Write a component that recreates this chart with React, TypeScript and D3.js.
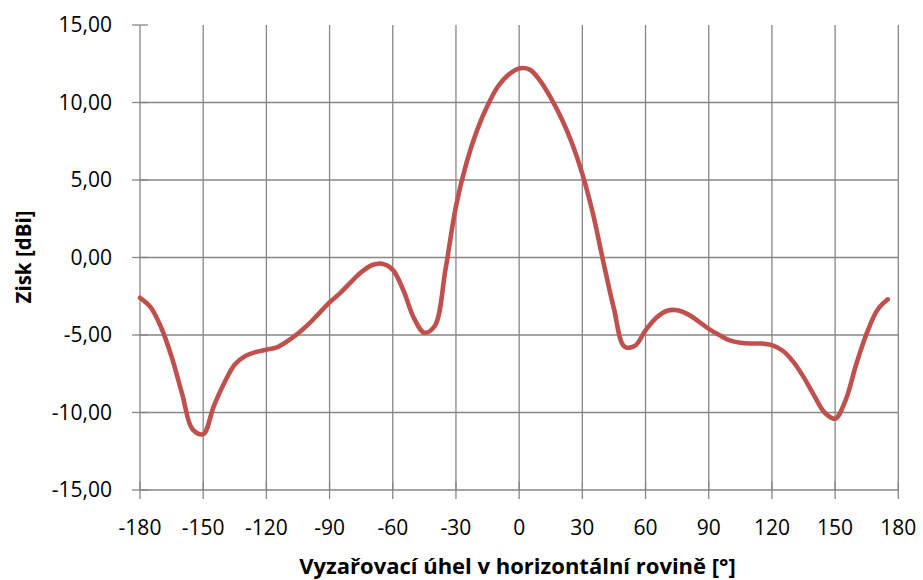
import React from "react";
import * as d3 from "d3";

const angles: number[] = [
  -180, -175, -170, -165, -160, -155, -150, -145, -140, -135, -130, -125,
  -120, -115, -110, -105, -100, -95, -90, -85, -80, -75, -70, -65,
  -60, -55, -50, -45, -40, -35, -30, -25, -20, -15, -10, -5,
  0, 5, 10, 15, 20, 25, 30, 35, 40, 45, 50, 55,
  60, 65, 70, 75, 80, 85, 90, 95, 100, 105, 110, 115,
  120, 125, 130, 135, 140, 145, 150, 155, 160, 165, 170, 175,
];

const gains: number[] = [
  -2.6, -3.2, -4.5, -6.4, -8.8, -11.1, -11.4, -9.6, -8.1, -6.9, -6.35, -6.1,
  -5.95, -5.8, -5.4, -4.9, -4.3, -3.6, -2.9, -2.3, -1.6, -0.95, -0.5, -0.4,
  -0.8, -2.1, -3.9, -4.85, -4.4, -0.8, 3.3, 6.1, 8.2, 9.8, 11.05, 11.8,
  12.2, 12.12, 11.4, 10.3, 9.0, 7.4, 5.4, 2.85, -0.3, -3.3, -5.75, -5.7,
  -4.7, -3.9, -3.45, -3.4, -3.65, -4.1, -4.6, -5.0, -5.35, -5.5, -5.55, -5.55,
  -5.65, -6.0, -6.7, -7.7, -8.9, -10.0, -10.4, -9.2, -6.9, -4.9, -3.4, -2.7,
];

const xTicks: number[] = [-180, -150, -120, -90, -60, -30, 0, 30, 60, 90, 120, 150, 180];
const yTicks: number[] = [-15, -10, -5, 0, 5, 10, 15];

const xTitle = "Vyzařovací úhel v horizontální rovině [°]";
const yTitle = "Zisk [dBi]";

const W = 923;
const H = 580;
const left = 140;
const right = 898.3;
const top = 25;
const bottom = 490;

const gridColor = "#868686";
const lineColor = "#C0504D";
const font = "'Open Sans', 'Liberation Sans', sans-serif";

export default function App() {
  const x = d3.scaleLinear().domain([-180, 180]).range([left, right]);
  const y = d3.scaleLinear().domain([-15, 15]).range([bottom, top]);

  const data = angles.map((a, i) => [a, gains[i]] as [number, number]);
  const line = d3
    .line<[number, number]>()
    .x((d) => x(d[0]))
    .y((d) => y(d[1]))
    .curve(d3.curveCatmullRom.alpha(0.5));

  const fmt = (v: number) => v.toFixed(2).replace(".", ",");

  return (
    <svg
      width={W}
      height={H}
      style={{ position: "absolute", left: 0, top: 0, background: "#fff" }}
    >
      <rect x={0} y={0} width={W} height={H} fill="#fff" />
      {yTicks
        .filter((t) => t !== 15)
        .map((t) => (
          <line
            key={"hg" + t}
            x1={left}
            x2={right}
            y1={y(t)}
            y2={y(t)}
            stroke={gridColor}
            strokeWidth={1.3}
          />
        ))}
      {xTicks.map((t) => (
        <line
          key={"vg" + t}
          x1={x(t)}
          x2={x(t)}
          y1={top}
          y2={bottom}
          stroke={gridColor}
          strokeWidth={1.3}
        />
      ))}
      {yTicks.map((t) => (
        <line
          key={"yt" + t}
          x1={left - 8}
          x2={left + 8}
          y1={y(t)}
          y2={y(t)}
          stroke={gridColor}
          strokeWidth={1.3}
        />
      ))}
      {xTicks.map((t) => (
        <line
          key={"xt" + t}
          x1={x(t)}
          x2={x(t)}
          y1={bottom - 8}
          y2={bottom + 9}
          stroke={gridColor}
          strokeWidth={1.3}
        />
      ))}
      <path
        d={line(data) || ""}
        fill="none"
        stroke={lineColor}
        strokeWidth={4.6}
        strokeLinejoin="round"
        strokeLinecap="round"
      />
      {yTicks.map((t) => (
        <text
          key={"yl" + t}
          x={112}
          y={y(t)}
          dy="0.35em"
          textAnchor="end"
          fontFamily={font}
          fontSize={21}
          fill="#000"
        >
          {fmt(t)}
        </text>
      ))}
      {xTicks.map((t) => (
        <text
          key={"xl" + t}
          x={x(t)}
          y={535}
          textAnchor="middle"
          fontFamily={font}
          fontSize={21}
          fill="#000"
        >
          {t}
        </text>
      ))}
      <text
        x={(296.7 + 738.3) / 2}
        y={574}
        textAnchor="middle"
        fontFamily={font}
        fontWeight="bold"
        fontSize={22}
        fill="#000"
      >
        {xTitle}
      </text>
      <text
        transform={`translate(31, 257) rotate(-90)`}
        textAnchor="middle"
        fontFamily={font}
        fontWeight="bold"
        fontSize={20.5}
        fill="#000"
      >
        {yTitle}
      </text>
    </svg>
  );
}
